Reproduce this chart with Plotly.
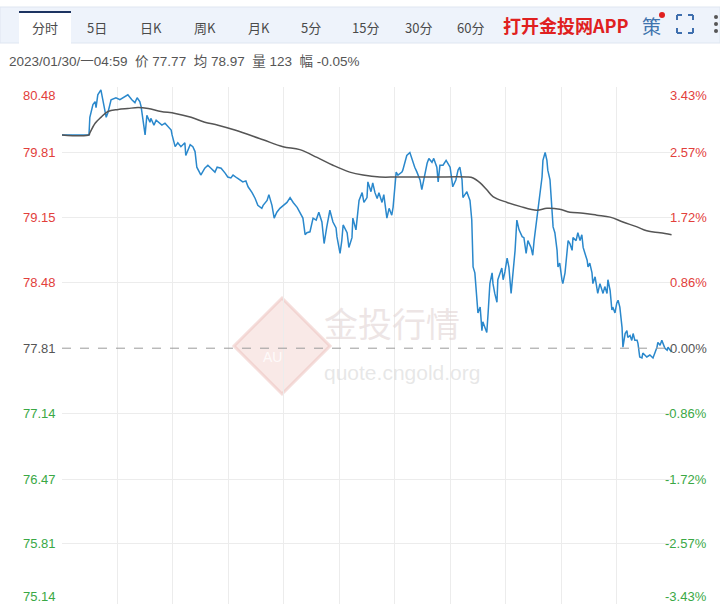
import plotly.graph_objects as go

# ---------------- data ----------------
prev_close = 77.81
session_minutes = 1380  # 06:00 -> 05:00

price_time = [0, 61, 63, 70, 75, 77, 81, 88, 100, 104, 111, 122, 131, 138, 149, 158, 165, 170, 176, 179,
              183, 188, 192, 199, 201, 208, 213, 222, 226, 233, 240, 247, 249, 256, 262, 269, 278, 280, 290, 296,
              301, 305, 312, 314, 323, 330, 337, 346, 351, 360, 369, 375, 382, 387, 396, 403, 409, 416, 421, 430,
              437, 443, 452, 455, 464, 468, 475, 480, 486, 493, 500, 509, 516, 523, 532, 538, 545, 550, 554, 561,
              568, 575, 581, 588, 593, 599, 606, 613, 620, 622, 629, 633, 636, 645, 649, 656, 658, 665, 672, 679,
              683, 690, 692, 699, 703, 708, 713, 717, 724, 728, 735, 740, 746, 749, 756, 760, 769, 771, 776, 780,
              787, 794, 798, 803, 810, 814, 819, 826, 830, 837, 841, 848, 851, 855, 862, 869, 873, 878, 882, 884,
              891, 896, 900, 905, 907, 912, 916, 918, 923, 927, 930, 934, 939, 941, 946, 950, 952, 957, 961, 964,
              968, 973, 975, 979, 984, 986, 991, 995, 998, 1002, 1007, 1011, 1016, 1020, 1025, 1029, 1034, 1041, 1045, 1050,
              1054, 1061, 1065, 1068, 1072, 1074, 1079, 1086, 1088, 1093, 1097, 1099, 1104, 1108, 1111, 1115, 1120, 1122, 1126, 1131,
              1133, 1138, 1142, 1145, 1149, 1154, 1156, 1163, 1167, 1172, 1176, 1179, 1183, 1188, 1190, 1194, 1199, 1201, 1206, 1210,
              1212, 1217, 1221, 1224, 1228, 1233, 1235, 1240, 1244, 1246, 1251, 1255, 1258, 1262, 1267, 1269, 1274, 1278, 1280, 1285,
              1289, 1292, 1296, 1301, 1303, 1307, 1312, 1314, 1323, 1330, 1337, 1341, 1346, 1348, 1353, 1357, 1360, 1364, 1369, 1371,
              1379]

price = [79.99, 79.99, 80.17, 80.30, 80.33, 80.27, 80.40, 80.45, 80.17, 80.22, 80.35, 80.37, 80.35, 80.37, 80.40, 80.35, 80.32, 80.37, 80.33, 80.28,
         80.16, 79.99, 80.19, 80.12, 80.16, 80.09, 80.14, 80.11, 80.09, 80.11, 80.07, 80.04, 79.99, 79.87, 79.91, 79.87, 79.91, 79.78, 79.89, 79.87,
         79.82, 79.66, 79.60, 79.58, 79.65, 79.68, 79.65, 79.61, 79.66, 79.65, 79.60, 79.56, 79.55, 79.58, 79.55, 79.53, 79.51, 79.52, 79.46, 79.40,
         79.34, 79.27, 79.24, 79.27, 79.32, 79.38, 79.27, 79.14, 79.20, 79.24, 79.27, 79.30, 79.35, 79.30, 79.25, 79.20, 79.14, 78.97, 78.99, 79.00,
         79.14, 79.12, 79.20, 79.10, 78.88, 79.05, 79.22, 79.10, 79.04, 78.95, 78.78, 78.91, 79.07, 78.99, 78.84, 78.94, 79.14, 79.02, 79.32, 79.40,
         79.30, 79.35, 79.51, 79.41, 79.50, 79.40, 79.34, 79.40, 79.30, 79.38, 79.14, 79.24, 79.17, 79.25, 79.61, 79.58, 79.61, 79.63, 79.70, 79.78,
         79.81, 79.70, 79.66, 79.61, 79.53, 79.43, 79.55, 79.70, 79.75, 79.71, 79.75, 79.66, 79.51, 79.68, 79.68, 79.73, 79.70, 79.66, 79.53, 79.46,
         79.53, 79.63, 79.66, 79.53, 79.35, 79.38, 79.41, 79.38, 79.32, 79.12, 78.64, 78.58, 78.30, 78.17, 78.23, 77.99, 78.08, 78.02, 77.97, 78.17,
         78.47, 78.58, 78.47, 78.37, 78.28, 78.51, 78.58, 78.63, 78.51, 78.59, 78.73, 78.64, 78.37, 78.58, 78.81, 79.12, 79.02, 78.95, 78.94, 78.78,
         78.91, 78.84, 78.76, 78.91, 79.05, 79.09, 79.29, 79.56, 79.73, 79.81, 79.73, 79.63, 79.53, 79.22, 79.05, 78.99, 78.81, 78.64, 78.68, 78.51,
         78.47, 78.58, 78.78, 78.91, 78.88, 78.81, 78.94, 78.91, 78.99, 78.91, 78.97, 78.84, 78.78, 78.71, 78.64, 78.68, 78.58, 78.47, 78.54, 78.44,
         78.37, 78.47, 78.40, 78.37, 78.44, 78.37, 78.51, 78.40, 78.20, 78.23, 78.17, 78.27, 78.30, 78.23, 78.02, 77.82, 77.96, 77.99, 77.92, 77.94,
         77.89, 77.96, 77.89, 77.89, 77.86, 77.72, 77.71, 77.76, 77.72, 77.74, 77.71, 77.76, 77.82, 77.87, 77.84, 77.89, 77.86, 77.81, 77.79, 77.82,
         77.77]

avg_time = [0, 61, 63, 75, 88, 104, 127, 149, 172, 195, 224, 256, 292, 323, 353, 391, 455, 500, 538, 577,
            613, 651, 681, 719, 758, 839, 916, 930, 946, 961, 975, 1007, 1036, 1074, 1097, 1126, 1149, 1179, 1210, 1240,
            1269, 1301, 1323, 1353, 1379]
avg_price = [79.99, 79.99, 80.01, 80.11, 80.17, 80.23, 80.25, 80.26, 80.27, 80.26, 80.23, 80.21, 80.17, 80.12, 80.09, 80.04, 79.94, 79.87, 79.84, 79.76,
             79.68, 79.61, 79.58, 79.56, 79.56, 79.56, 79.56, 79.55, 79.50, 79.43, 79.36, 79.30, 79.26, 79.22, 79.24, 79.23, 79.20, 79.19, 79.17, 79.15,
             79.10, 79.05, 79.01, 78.99, 78.97]

price_ticks = [80.48, 79.81, 79.15, 78.48, 77.81, 77.14, 76.47, 75.81, 75.14]
pct_ticks = ["3.43%", "2.57%", "1.72%", "0.86%", "0.00%", "-0.86%", "-1.72%", "-2.57%", "-3.43%"]

tabs = ["分时", "5日", "日K", "周K", "月K", "5分", "15分", "30分", "60分"]
info_text = "2023/01/30/一04:59  价 77.77  均 78.97  量 123  幅 -0.05%"

# ---------------- layout helpers ----------------
W, H = 720, 604
L, R, T, B = 62, 48, 87, 0
PW, PH = W - L - R, H - T - B
GRID_PX = 65.3  # pixels between price grid lines


def px(x):
    return (x - L) / PW


def py(y):
    return (H - B - y) / PH


FONT = "Liberation Sans, Arial, Noto Sans CJK SC, sans-serif"
CJK = "Noto Sans CJK SC, sans-serif"
RED = "#e2403b"
GREEN = "#3aa845"
GREY = "#555555"

fig = go.Figure()
fig.add_trace(go.Scatter(x=price_time, y=price, mode="lines",
                         line=dict(color="#2a88cc", width=1.5), hoverinfo="skip"))
fig.add_trace(go.Scatter(x=avg_time, y=avg_price, mode="lines", line_shape="spline",
                         line=dict(color="#555555", width=1.5), hoverinfo="skip"))

step = (price_ticks[0] - price_ticks[-1]) / (len(price_ticks) - 1)
y_bottom = price_ticks[0] - step * PH / GRID_PX
shapes = []
annotations = []

# baseline (previous close) dashed
shapes.append(dict(type="line", xref="paper", yref="y", x0=0, x1=1, y0=prev_close, y1=prev_close,
                   line=dict(color="#9a9a9a", width=1, dash="dash"), layer="above"))

# watermark
cx, cy, r = 282, 346, 48
shapes.append(dict(type="path", xref="paper", yref="paper", layer="below",
                   path=f"M {px(cx)},{py(cy - r)} L {px(cx + r)},{py(cy)} L {px(cx)},{py(cy + r)} L {px(cx - r)},{py(cy)} Z",
                   fillcolor="rgba(240,200,195,0.40)", line=dict(color="rgba(235,190,185,0.5)", width=3)))
annotations.append(dict(xref="paper", yref="paper", x=px(322), y=py(322), xanchor="left", yanchor="middle",
                        text="金投行情", showarrow=False, font=dict(family=CJK, size=34, color="rgba(225,212,212,0.6)")))
annotations.append(dict(xref="paper", yref="paper", x=px(322), y=py(372), xanchor="left", yanchor="middle",
                        text="quote.cngold.org", showarrow=False, font=dict(family=FONT, size=21, color="rgba(215,215,215,0.6)")))
annotations.append(dict(xref="paper", yref="paper", x=px(272), y=py(357), xanchor="center", yanchor="middle",
                        text="AU", showarrow=False, font=dict(family=FONT, size=14, color="rgba(255,255,255,0.8)")))

# axis labels (placed in pixel space: grid line position, top/bottom label nudged inside)
top_px = T
for i, (v, p) in enumerate(zip(price_ticks, pct_ticks)):
    if v > prev_close:
        c = RED
    elif v < prev_close:
        c = GREEN
    else:
        c = GREY
    ypix = top_px + (price_ticks[0] - v) / step * GRID_PX
    if i == 0:
        ypix += 8
    elif i == len(price_ticks) - 1:
        ypix -= 13
    annotations.append(dict(xref="paper", yref="paper", x=px(58), y=py(ypix), xanchor="right", yanchor="middle",
                            text=f"{v:.2f}", showarrow=False, font=dict(family=FONT, size=13, color=c)))
    annotations.append(dict(xref="paper", yref="paper", x=px(709), y=py(ypix), xanchor="right", yanchor="middle",
                            text=p, showarrow=False, font=dict(family=FONT, size=13, color=c)))

# toolbar
shapes.append(dict(type="rect", xref="paper", yref="paper", x0=px(0), x1=px(720), y0=py(43), y1=py(7),
                   fillcolor="#eef3fb", line=dict(color="#dfe6f1", width=1), layer="below"))
shapes.append(dict(type="rect", xref="paper", yref="paper", x0=px(19), x1=px(71), y0=py(44), y1=py(11),
                   fillcolor="#ffffff", line=dict(width=0), layer="below"))
shapes.append(dict(type="line", xref="paper", yref="paper", x0=px(19), x1=px(71), y0=py(12), y1=py(12),
                   line=dict(color="#1d3461", width=2)))
tab_x = [45, 97, 151, 205, 259, 311, 365, 418, 470]
for t, x in zip(tabs, tab_x):
    annotations.append(dict(xref="paper", yref="paper", x=px(x), y=py(27), xanchor="center", yanchor="middle",
                            text=t, showarrow=False, font=dict(family=CJK, size=13, color="#4a4a4a")))
annotations.append(dict(xref="paper", yref="paper", x=px(566), y=py(25), xanchor="center", yanchor="middle",
                        text="<b>打开金投网APP</b>", showarrow=False, font=dict(family=CJK, size=18, color="#e02020")))
annotations.append(dict(xref="paper", yref="paper", x=px(651), y=py(26), xanchor="center", yanchor="middle",
                        text="策", showarrow=False, font=dict(family=CJK, size=19, color="#3f73ad")))
shapes.append(dict(type="circle", xref="paper", yref="paper", x0=px(659), x1=px(665), y0=py(18), y1=py(12),
                   fillcolor="#e02020", line=dict(width=0)))
# fullscreen icon
icon_c = "#3f6fae"
x0, x1, y0, y1, k = 677, 693, 15, 33, 5
for xa, xb, ya, yb in [(x0, x0 + k, y0, y0), (x0, x0, y0, y0 + k), (x1 - k, x1, y0, y0), (x1, x1, y0, y0 + k),
                       (x0, x0 + k, y1, y1), (x0, x0, y1 - k, y1), (x1 - k, x1, y1, y1), (x1, x1, y1 - k, y1)]:
    shapes.append(dict(type="line", xref="paper", yref="paper", x0=px(xa), x1=px(xb), y0=py(ya), y1=py(yb),
                       line=dict(color=icon_c, width=2)))
for yy in [17, 24, 31]:
    shapes.append(dict(type="circle", xref="paper", yref="paper", x0=px(714), x1=px(718), y0=py(yy + 2), y1=py(yy - 2),
                       fillcolor="#555555", line=dict(width=0)))

annotations.append(dict(xref="paper", yref="paper", x=px(7), y=py(62), xanchor="left", yanchor="middle",
                        text=info_text, showarrow=False, font=dict(family=FONT, size=13.5, color="#555555")))

grid_x = [session_minutes * i / 11 for i in range(1, 11)]
fig.update_layout(
    width=W, height=H,
    margin=dict(l=L, r=R, t=T, b=B, pad=0),
    paper_bgcolor="white", plot_bgcolor="white",
    showlegend=False,
    shapes=shapes, annotations=annotations,
    xaxis=dict(range=[0, session_minutes], tickvals=grid_x, showticklabels=False, showgrid=True,
               gridcolor="#ececec", gridwidth=1, zeroline=False, showline=False, ticks=""),
    yaxis=dict(range=[y_bottom, price_ticks[0]], tickvals=[v for v in price_ticks if v != prev_close],
               showticklabels=False, showgrid=True, gridcolor="#ececec", gridwidth=1,
               zeroline=False, showline=False, ticks=""),
)

fig.write_html("out.html", config={"displayModeBar": False},
               post_script="document.body.style.margin='0';document.body.style.overflow='hidden';")
